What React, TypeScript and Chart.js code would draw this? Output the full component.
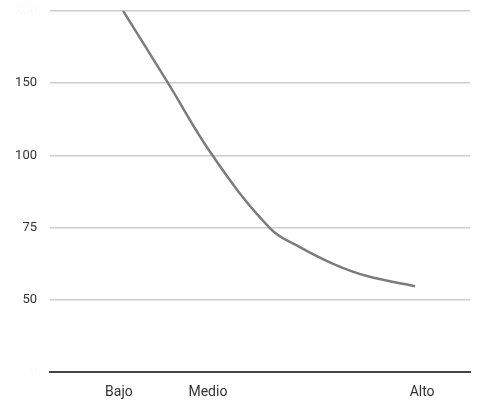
import React, { useEffect, useRef } from "react";
import { Chart, registerables } from "chart.js";

Chart.register(...registerables);

// Y axis: evenly spaced gridlines labelled with these values (bottom to top)
const yTickLabels = ["0", "50", "75", "100", "150", "200"];
const yTickColors = ["#fafafa", "#333333", "#333333", "#333333", "#333333", "#fafafa"];

// X axis categories and their positions along the horizontal axis (0-100)
const xCategories = ["Bajo", "Medio", "Alto"];
const xCategoryPositions = [16.4, 37.6, 88.6];

// Curve samples: x position (0-100) and y level (in gridline steps)
const curveX = [17.4, 27.9, 38.8, 52.4, 59.5, 67.4, 75.5, 86.9];
const curveY = [5.0, 4.02, 2.99, 1.99, 1.73, 1.5, 1.33, 1.19];

export default function App() {
  const ref = useRef<HTMLCanvasElement | null>(null);

  useEffect(() => {
    if (!ref.current) return;
    const chart = new Chart(ref.current, {
      type: "line",
      data: {
        datasets: [
          {
            data: curveX.map((x, i) => ({ x, y: curveY[i] })),
            borderColor: "#7c7c7c",
            borderWidth: 2.5,
            pointRadius: 0,
            tension: 0.4,
            fill: false,
          },
        ],
      },
      options: {
        animation: false,
        responsive: true,
        maintainAspectRatio: false,
        layout: { padding: { left: 0, right: 14, top: 2, bottom: 0 } },
        plugins: { legend: { display: false }, tooltip: { enabled: false } },
        scales: {
          x: {
            type: "linear",
            min: 0,
            max: 100,
            grid: { display: false, drawTicks: false },
            border: { display: true, color: "#444444", width: 2 },
            afterBuildTicks: (scale: any) => {
              scale.ticks = xCategoryPositions.map((v) => ({ value: v }));
            },
            ticks: {
              autoSkip: false,
              maxRotation: 0,
              padding: 12,
              color: "#333333",
              font: { family: "Roboto", size: 14 },
              callback: (v: any) => {
                const i = xCategoryPositions.indexOf(Number(v));
                return i >= 0 ? xCategories[i] : "";
              },
            },
          },
          y: {
            type: "linear",
            min: 0,
            max: 5,
            grid: { color: "#cccccc", lineWidth: 1.5, drawTicks: false },
            border: { display: false },
            afterFit: (scale: any) => {
              scale.width = 50;
            },
            ticks: {
              stepSize: 1,
              padding: 13,
              color: (ctx: any) => yTickColors[ctx.index] || "#333333",
              font: { family: "Roboto", size: 13 },
              callback: (v: any) => yTickLabels[Number(v)] ?? "",
            },
          },
        },
      },
    });
    return () => chart.destroy();
  }, []);

  return (
    <div style={{ position: "fixed", left: 0, top: -10, width: 484, height: 423, background: "#fff" }}>
      <canvas ref={ref} />
    </div>
  );
}
